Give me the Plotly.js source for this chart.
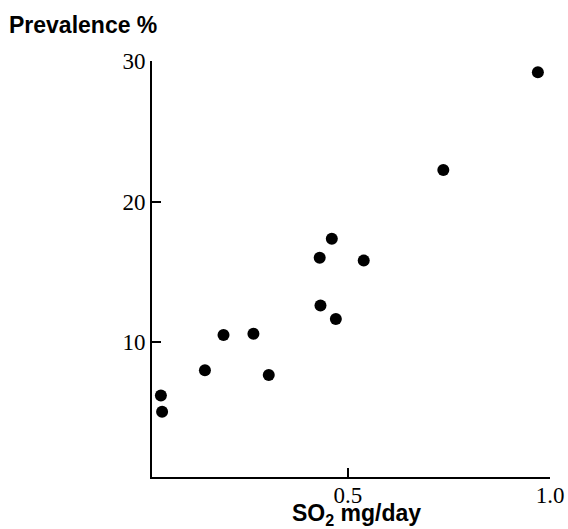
<!DOCTYPE html>
<html>
<head>
<meta charset="utf-8">
<script src="https://cdn.plot.ly/plotly-3.0.1.min.js"></script>
<style>html,body{margin:0;padding:0;background:#fff;}#chart{width:568px;height:529px;}</style>
</head>
<body>
<div id="chart"></div>
<script>
// SO2 exposure (mg/day) and prevalence (%)
const so2 = [0.037, 0.040, 0.146, 0.192, 0.266, 0.304, 0.430, 0.432, 0.460, 0.470, 0.539, 0.736, 0.970];
const prevalence = [6.2, 5.05, 8.0, 10.5, 10.6, 7.65, 16.0, 12.6, 17.35, 11.65, 15.8, 22.25, 29.2];
const xTickVals = [0.5, 1.0];
const xTickText = ["0.5", "1.0"];
const yTickVals = [10, 20, 30];
const yTickText = ["10", "20", "30"];
const xTitle = "SO<sub>2</sub> mg/day";
const yTitle = "Prevalence %";

const W = 568, H = 529;
const L = 152, R = 18, T = 61, B = 52;
const pw = W - L - R, ph = H - T - B;
const xRange = [0.015, 1.0], yRange = [0.4, 30];

const trace = {
  x: so2, y: prevalence, type: 'scatter', mode: 'markers',
  marker: {color: '#000', size: 12, line: {width: 0}},
  hoverinfo: 'skip', showlegend: false, cliponaxis: false
};

const tickFont = {family: 'Liberation Serif, Times New Roman, serif', size: 23, color: '#000'};
const titleFont = {family: 'Liberation Sans, Arial, sans-serif', size: 23, color: '#000'};

const layout = {
  width: W, height: H,
  margin: {l: L, r: R, t: T, b: B, pad: 0},
  paper_bgcolor: '#fff', plot_bgcolor: '#fff',
  xaxis: {
    range: xRange, showgrid: false, zeroline: false,
    showline: true, linecolor: '#000', linewidth: 2, mirror: false,
    ticks: 'inside', ticklen: 9, tickwidth: 2, tickcolor: '#000',
    tickmode: 'array', tickvals: xTickVals, ticktext: xTickText,
    tickfont: tickFont, ticklabelstandoff: -4, fixedrange: true
  },
  yaxis: {
    range: yRange, showgrid: false, zeroline: false,
    showline: true, linecolor: '#000', linewidth: 2, mirror: false,
    ticks: 'inside', ticklen: 9, tickwidth: 2, tickcolor: '#000',
    tickmode: 'array', tickvals: yTickVals, ticktext: yTickText,
    tickfont: tickFont, fixedrange: true
  },
  annotations: [
    {text: '<b>' + yTitle + '</b>', xref: 'paper', yref: 'paper',
     x: (83 - L) / pw, y: (H - B - 25) / ph, xanchor: 'center', yanchor: 'middle',
     showarrow: false, font: titleFont},
    {text: '<b>' + xTitle + '</b>', xref: 'paper', yref: 'paper',
     x: (356 - L) / pw, y: (H - B - 514) / ph, xanchor: 'center', yanchor: 'middle',
     showarrow: false, font: titleFont}
  ]
};

Plotly.newPlot('chart', [trace], layout, {staticPlot: true, displayModeBar: false});
</script>
</body>
</html>
